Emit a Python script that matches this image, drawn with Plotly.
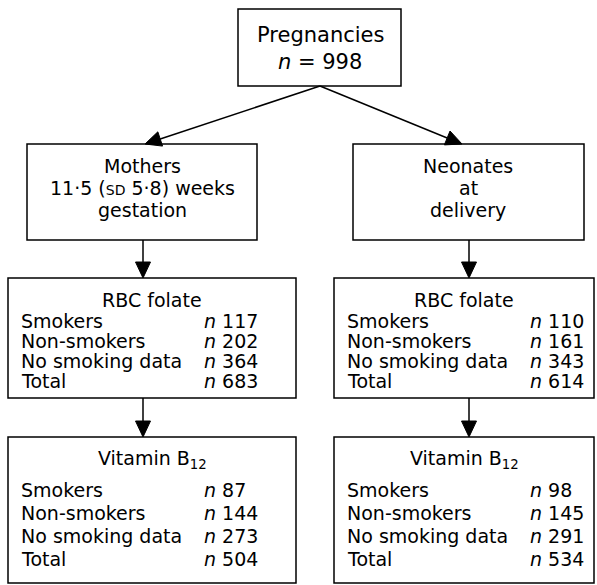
import math
import plotly.graph_objects as go

# ---- data ----
total_pregnancies = 998
top_title = "Pregnancies"
left_title_lines = ["Mothers", "11·5 (<span style='font-size:14px'>SD</span> 5·8) weeks", "gestation"]
right_title_lines = ["Neonates", "at", "delivery"]
measure_titles = ["RBC folate", "Vitamin B<sub>12</sub>"]
row_labels = ["Smokers", "Non-smokers", "No smoking data", "Total"]
mothers_rbc = [117, 202, 364, 683]
neonates_rbc = [110, 161, 343, 614]
mothers_b12 = [87, 144, 273, 504]
neonates_b12 = [98, 145, 291, 534]

W, H = 597, 585
FONT = dict(family="DejaVu Sans, Verdana, sans-serif", size=19, color="black")

fig = go.Figure()
shapes = []
annos = []


def box(x0, y0, x1, y1):
    shapes.append(dict(type="rect", x0=x0, y0=y0, x1=x1, y1=y1,
                       line=dict(color="black", width=1.5), fillcolor="white", layer="below"))


def text(x, y, s, anchor="center", size=None):
    f = dict(FONT)
    if size:
        f["size"] = size
    annos.append(dict(x=x, y=y, text=s, showarrow=False, xanchor=anchor, yanchor="middle",
                      font=f, xref="x", yref="y"))


def arrow(xa, ya, xb, yb, L=16, HW=7.5):
    dx, dy = xb - xa, yb - ya
    d = math.hypot(dx, dy)
    ux, uy = dx / d, dy / d
    bx, by = xb - ux * L, yb - uy * L
    shapes.append(dict(type="line", x0=xa, y0=ya, x1=bx, y1=by,
                       line=dict(color="black", width=1.5)))
    px, py = -uy, ux
    path = (f"M {xb},{yb} L {bx + px * HW},{by + py * HW} "
            f"L {bx - px * HW},{by - py * HW} Z")
    shapes.append(dict(type="path", path=path, fillcolor="black",
                       line=dict(color="black", width=1)))


# top box
box(238, 9, 401, 86)
text(320, 35, top_title, size=21)
text(320, 62, f"<i>n</i> = {total_pregnancies}", size=21)

# second level
box(27, 144, 257, 240)
box(353, 144, 584, 240)
for i, y in enumerate([166, 188, 210]):
    text(142, y, left_title_lines[i])
    text(468, y, right_title_lines[i])

arrow(320, 86, 145, 144)
arrow(320, 86, 462, 144)

# lower boxes
cols = [
    dict(x0=8, x1=296, lab=19, nx=202, cx=152),
    dict(x0=334, x1=594, lab=345, nx=528, cx=464),
]
levels = [
    dict(y0=278, y1=398, ty=300, rows=[321, 341, 361, 381]),
    dict(y0=437, y1=583, ty=459, rows=[490, 513, 536, 559]),
]
series = [[mothers_rbc, neonates_rbc], [mothers_b12, neonates_b12]]

for li, lev in enumerate(levels):
    for ci, col in enumerate(cols):
        box(col["x0"], lev["y0"], col["x1"], lev["y1"])
        text(col["cx"], lev["ty"], measure_titles[li])
        vals = series[li][ci]
        for ri, y in enumerate(lev["rows"]):
            text(col["lab"], y, row_labels[ri], anchor="left")
            text(col["nx"], y, f"<i>n</i> {vals[ri]}", anchor="left")

# vertical arrows
arrow(143, 240, 143, 278)
arrow(469, 240, 469, 278)
arrow(143, 398, 143, 437)
arrow(469, 398, 469, 437)

fig.update_layout(
    width=W, height=H,
    margin=dict(l=0, r=0, t=0, b=0),
    paper_bgcolor="white", plot_bgcolor="white",
    xaxis=dict(range=[0, W], visible=False, fixedrange=True),
    yaxis=dict(range=[H, 0], visible=False, fixedrange=True),
    shapes=shapes, annotations=annos, showlegend=False,
)
fig.write_html(
    "out.html",
    config={"displayModeBar": False},
    post_script="document.body.style.margin='0';document.body.style.overflow='hidden';",
)
